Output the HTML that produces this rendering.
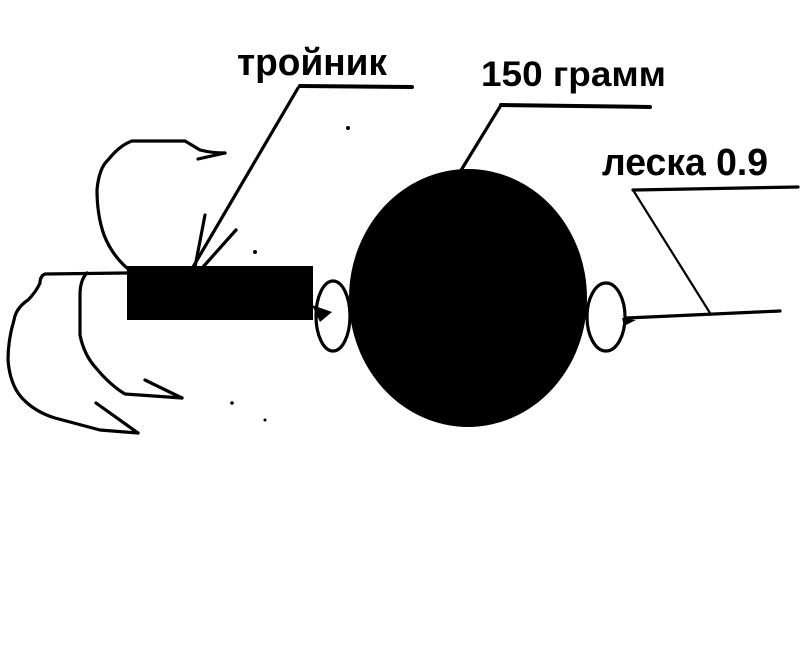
<!DOCTYPE html>
<html><head><meta charset="utf-8"><style>
html,body{margin:0;padding:0;background:#fff;width:800px;height:654px;overflow:hidden}
svg{display:block}
text{font-family:"Liberation Sans","Noto Sans CJK SC",sans-serif;font-weight:bold;fill:#000}
</style></head><body>
<svg width="800" height="654" viewBox="0 0 800 654" xmlns="http://www.w3.org/2000/svg">
<rect width="800" height="654" fill="#fff"/>
<g fill="none" stroke="#000" stroke-width="3.2" stroke-linejoin="round" stroke-linecap="round">
<path d="M127,268 Q112,255 104,235 Q97,215 97,190 Q99,168 108,160 Q120,145 132,141 L185,141 L200,150 Q212,153 225,153"/>
<path d="M198,159 L225,153"/>
<path d="M127,273 L45,274 Q40,276 40,283 Q36,292 28,300 Q16,308 14,320 Q8,340 8,360 Q10,385 22,398 Q35,412 55,418 L100,430 L138,433"/>
<path d="M96,403 L138,433"/>
<path d="M87,273 Q80,280 80,295 L80,335 Q84,355 96,368 Q110,385 125,394 L182,398"/>
<path d="M145,380 L182,398"/>
<path d="M298,88 L193,267"/>
<path d="M300,86 L412,87" stroke-width="4"/>
<path d="M205,215 L195,267"/>
<path d="M236,230 L203,267"/>
<path d="M501,105 L460,172"/>
<path d="M501,105 L650,107" stroke-width="4"/>
<ellipse cx="333" cy="316" rx="17" ry="35"/>
<ellipse cx="606" cy="317" rx="19" ry="34"/>
<path d="M626,318 L780,311"/>
<path d="M633,190 L710,313" stroke-width="2.2"/>
<path d="M633,190 L798,187"/>
</g>
<rect x="127" y="266" width="186" height="54" fill="#000"/>
<ellipse cx="468" cy="298" rx="119" ry="129" fill="#000"/>
<path d="M312,305 L332,312 L320,322 Z" fill="#000"/>
<path d="M622,318 L636,320 L624,326 Z" fill="#000"/>
<circle cx="348" cy="128" r="2" fill="#000"/>
<circle cx="255" cy="252" r="2" fill="#000"/>
<circle cx="232" cy="403" r="1.8" fill="#000"/>
<circle cx="265" cy="420" r="1.5" fill="#000"/>
<text x="237" y="75" font-size="38" textLength="150" lengthAdjust="spacingAndGlyphs">тройник</text>
<text x="481" y="86" font-size="35" textLength="185" lengthAdjust="spacingAndGlyphs">150 грамм</text>
<text x="602" y="175" font-size="38" textLength="166" lengthAdjust="spacingAndGlyphs">леска 0.9</text>
</svg>
</body></html>
